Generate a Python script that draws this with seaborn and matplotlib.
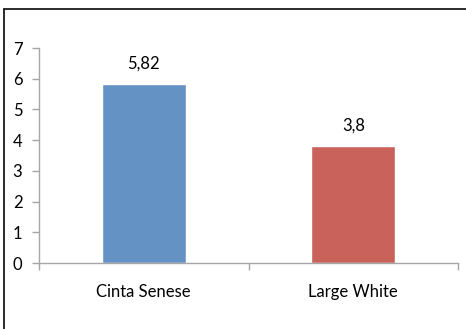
import matplotlib
matplotlib.use("Agg")
import matplotlib.pyplot as plt
from matplotlib.lines import Line2D
from matplotlib.ticker import FixedLocator
import seaborn as sns
import pandas as pd

breeds = ["Cinta Senese", "Large White"]
values = [5.82, 3.8]
value_labels = ["5,82", "3,8"]
bar_colors = ["#6592C4", "#C8625A"]
y_ticks = [0, 1, 2, 3, 4, 5, 6, 7]

sns.set_theme(style="white")
plt.rcParams["font.family"] = ["Lato", "DejaVu Sans"]

df = pd.DataFrame({"breed": breeds, "value": values})

fig = plt.figure(figsize=(4.66, 3.29), dpi=100)
ax = fig.add_axes([0.0837, 0.2006, 0.8993, 0.6534])

sns.barplot(data=df, x="breed", y="value", hue="breed", palette=bar_colors,
            width=0.4, legend=False, ax=ax, saturation=1)

for patch, lab in zip(ax.patches, value_labels):
    cx = patch.get_x() + patch.get_width() / 2
    ax.annotate(lab, (cx, patch.get_height()), xytext=(0, 15),
                textcoords="offset points", ha="center", va="center",
                fontsize=12, color="#000000")

ax.set_ylim(0, 7)
ax.set_xlim(-0.5, 1.5)
ax.set_yticks(y_ticks)
ax.set_xlabel("")
ax.set_ylabel("")

for side in ["top", "right"]:
    ax.spines[side].set_visible(False)
for side in ["left", "bottom"]:
    ax.spines[side].set_color("#A6A6A6")
    ax.spines[side].set_linewidth(1.0)

ax.tick_params(axis="y", which="major", left=True, length=5, width=1,
               color="#A6A6A6", pad=7, labelsize=12, labelcolor="#000000")
ax.tick_params(axis="x", which="major", bottom=False, length=0, pad=15,
               labelsize=12, labelcolor="#000000")
ax.xaxis.set_minor_locator(FixedLocator([-0.5, 0.5, 1.5]))
ax.tick_params(axis="x", which="minor", bottom=True, length=5, width=1,
               color="#A6A6A6")

# outer chart frame (left and top edges visible)
fig.add_artist(Line2D([0.0096, 0.0096], [0, 0.9726], transform=fig.transFigure,
                      color="#1a1a1a", linewidth=1.3))
fig.add_artist(Line2D([0.0096, 1.0], [0.9726, 0.9726], transform=fig.transFigure,
                      color="#1a1a1a", linewidth=1.3))

fig.savefig("out.png", dpi=100)
